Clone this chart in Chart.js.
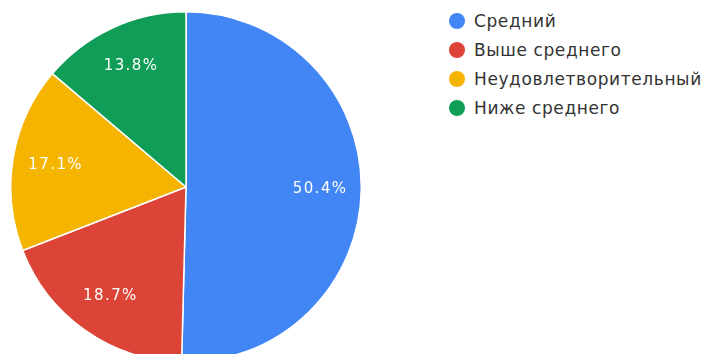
<!DOCTYPE html>
<html>
<head>
<meta charset="utf-8">
<script src="https://cdn.jsdelivr.net/npm/chart.js@4"></script>
<style>
  html, body { margin: 0; padding: 0; background: #fff; overflow: hidden; }
  body { width: 713px; height: 354px; position: relative; font-family: "DejaVu Sans", sans-serif; }
  #pie-box { position: absolute; left: 10px; top: 11px; width: 352px; height: 352px; }
  #legend { position: absolute; left: 449px; top: 6px; margin: 0; padding: 0; list-style: none; }
  #legend li { height: 29px; display: flex; align-items: center; font-size: 17px; letter-spacing: 0.6px; color: #333; white-space: nowrap; }
  #legend span.dot { width: 16px; height: 16px; border-radius: 50%; margin-right: 9px; flex: none; }
</style>
</head>
<body>
<div id="pie-box"><canvas id="pie"></canvas></div>
<ul id="legend"></ul>
<script>
const labels = ['Средний', 'Выше среднего', 'Неудовлетворительный', 'Ниже среднего'];
const shares = [50.4, 18.7, 17.1, 13.8];
const colors = ['#4285f4', '#db4437', '#f4b400', '#0f9d58'];

// percentage text inside each slice
const sliceLabels = {
  id: 'sliceLabels',
  afterDatasetsDraw(chart) {
    const ctx = chart.ctx;
    const meta = chart.getDatasetMeta(0);
    ctx.save();
    ctx.font = '15px "DejaVu Sans", sans-serif';
    ctx.letterSpacing = '1.4px';
    ctx.fillStyle = '#fff';
    ctx.textAlign = 'center';
    ctx.textBaseline = 'middle';
    meta.data.forEach((arc, i) => {
      const mid = (arc.startAngle + arc.endAngle) / 2;
      const r = arc.outerRadius * 0.76;
      ctx.fillText(shares[i].toFixed(1) + '%', arc.x + Math.cos(mid) * r + 1, arc.y + Math.sin(mid) * r);
    });
    ctx.restore();
  }
};

new Chart(document.getElementById('pie'), {
  type: 'pie',
  data: {
    labels: labels,
    datasets: [{ data: shares, backgroundColor: colors, borderColor: '#fff', borderWidth: 1.5 }]
  },
  options: {
    responsive: true,
    maintainAspectRatio: false,
    animation: false,
    layout: { padding: 0 },
    plugins: { legend: { display: false }, tooltip: { enabled: false } }
  },
  plugins: [sliceLabels]
});

const legend = document.getElementById('legend');
labels.forEach((name, i) => {
  const li = document.createElement('li');
  li.innerHTML = '<span class="dot" style="background:' + colors[i] + '"></span>' + name;
  legend.appendChild(li);
});
</script>
</body>
</html>
